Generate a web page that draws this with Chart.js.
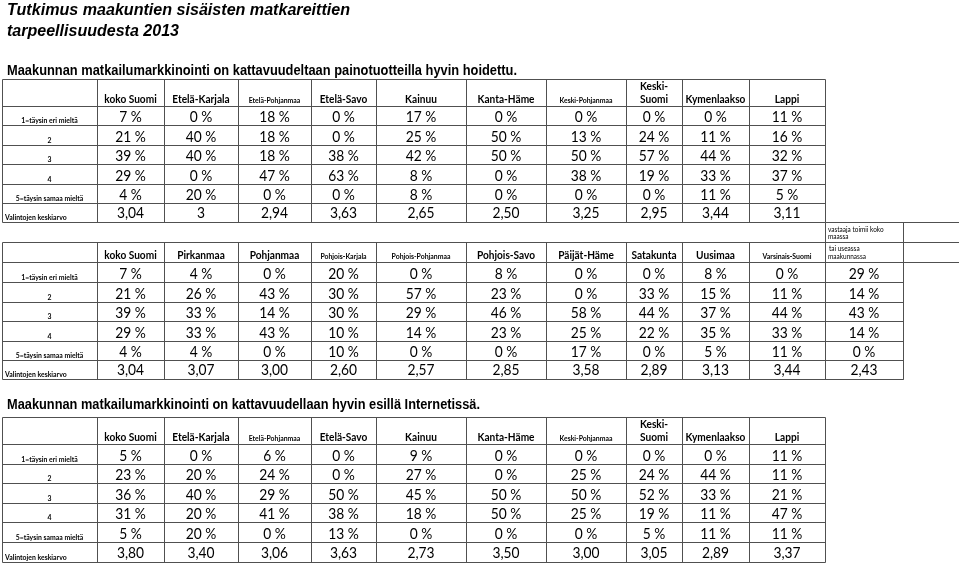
<!DOCTYPE html>
<html><head><meta charset="utf-8">
<script src="https://cdn.jsdelivr.net/npm/chart.js@4"></script>
<style>html,body{margin:0;padding:0;background:#fff;overflow:hidden}</style>
</head><body>
<canvas id="c" width="959" height="564"></canvas>
<script>
// ---------------- DATA ----------------
const mainTitle = ["Tutkimus maakuntien sisäisten matkareittien", "tarpeellisuudesta 2013"];
const question1 = "Maakunnan matkailumarkkinointi on kattavuudeltaan painotuotteilla hyvin hoidettu.";
const question2 = "Maakunnan matkailumarkkinointi on kattavuudellaan hyvin esillä Internetissä.";
const rowLabels = ["1=täysin eri mieltä", "2", "3", "4", "5=täysin samaa mieltä", "Valintojen keskiarvo"];

const regionsA = ["koko Suomi", "Etelä-Karjala", "Etelä-Pohjanmaa", "Etelä-Savo", "Kainuu", "Kanta-Häme", "Keski-Pohjanmaa", "Keski-Suomi", "Kymenlaakso", "Lappi"];
const regionsB = ["koko Suomi", "Pirkanmaa", "Pohjanmaa", "Pohjois-Karjala", "Pohjois-Pohjanmaa", "Pohjois-Savo", "Päijät-Häme", "Satakunta", "Uusimaa", "Varsinais-Suomi", "tai useassa maakunnassa"];
const extraColumnNote = "vastaaja toimii koko maassa";

// Table 1 (painotuotteet), regionsA
const t1_r1 = [7, 0, 18, 0, 17, 0, 0, 0, 0, 11];
const t1_r2 = [21, 40, 18, 0, 25, 50, 13, 24, 11, 16];
const t1_r3 = [39, 40, 18, 38, 42, 50, 50, 57, 44, 32];
const t1_r4 = [29, 0, 47, 63, 8, 0, 38, 19, 33, 37];
const t1_r5 = [4, 20, 0, 0, 8, 0, 0, 0, 11, 5];
const t1_avg = ["3,04", "3", "2,94", "3,63", "2,65", "2,50", "3,25", "2,95", "3,44", "3,11"];

// Table 2 (painotuotteet), regionsB
const t2_r1 = [7, 4, 0, 20, 0, 8, 0, 0, 8, 0, 29];
const t2_r2 = [21, 26, 43, 30, 57, 23, 0, 33, 15, 11, 14];
const t2_r3 = [39, 33, 14, 30, 29, 46, 58, 44, 37, 44, 43];
const t2_r4 = [29, 33, 43, 10, 14, 23, 25, 22, 35, 33, 14];
const t2_r5 = [4, 4, 0, 10, 0, 0, 17, 0, 5, 11, 0];
const t2_avg = ["3,04", "3,07", "3,00", "2,60", "2,57", "2,85", "3,58", "2,89", "3,13", "3,44", "2,43"];

// Table 3 (Internet), regionsA
const t3_r1 = [5, 0, 6, 0, 9, 0, 0, 0, 0, 11];
const t3_r2 = [23, 20, 24, 0, 27, 0, 25, 24, 44, 11];
const t3_r3 = [36, 40, 29, 50, 45, 50, 50, 52, 33, 21];
const t3_r4 = [31, 20, 41, 38, 18, 50, 25, 19, 11, 47];
const t3_r5 = [5, 20, 0, 13, 0, 0, 0, 5, 11, 11];
const t3_avg = ["3,80", "3,40", "3,06", "3,63", "2,73", "3,50", "3,00", "3,05", "2,89", "3,37"];

// ---------------- LAYOUT / STYLE ----------------
const colEdges = [2, 97, 164, 238, 311, 376, 466, 546, 626, 682, 749, 825, 903];
const tableRows = [
  [79, 106, 125, 145, 164, 184, 203, 222],
  [242, 262, 282, 302, 321, 341, 360, 379],
  [417, 444, 464, 483, 503, 522, 542, 562]
];
const noteBox = {rows: [222, 242, 262], cols: [825, 903, 960]};
const smallHeaders = ["Etelä-Pohjanmaa", "Keski-Pohjanmaa", "Pohjois-Karjala", "Pohjois-Pohjanmaa", "Varsinais-Suomi"];
const FAM = "Lato, 'Open Sans', sans-serif";
const FAM_T = "'Liberation Sans', Arial, sans-serif";
const ST = {
  title:  {size: 16, weight: 700, style: 'italic', fam: FAM_T},
  quest:  {size: 14, weight: 700, fam: FAM_T},
  value:  {size: 15, weight: 400, sx: 0.92},
  head:   {size: 11.5, weight: 700, sx: 0.88},
  headS:  {size: 8, weight: 700, sx: 0.86},
  rowLab: {size: 8, weight: 700, sx: 0.86},
  note:   {size: 7.2, weight: 400, sx: 0.9}
};
const lineColor = '#505050';

// ---------------- BUILD DATASETS ----------------
const tables = [
  {regions: regionsA, rows: [t1_r1, t1_r2, t1_r3, t1_r4, t1_r5], avg: t1_avg, edges: tableRows[0]},
  {regions: regionsB, rows: [t2_r1, t2_r2, t2_r3, t2_r4, t2_r5], avg: t2_avg, edges: tableRows[1]},
  {regions: regionsA, rows: [t3_r1, t3_r2, t3_r3, t3_r4, t3_r5], avg: t3_avg, edges: tableRows[2]}
];
const colCenter = i => (colEdges[i] + colEdges[i + 1]) / 2;

const datasets = [];
function textSet(points, style, align) {
  datasets.push({data: points, textStyle: style, textAlign: align || 'center', pointRadius: 0, showLine: false});
}
// titles
textSet([{x: 7, y: 15, t: mainTitle[0], fit: 343}, {x: 7, y: 36, t: mainTitle[1], fit: 172}], ST.title, 'left');
textSet([{x: 7, y: 75, t: question1, fit: 510}, {x: 7, y: 409, t: question2, fit: 473}], ST.quest, 'left');

tables.forEach(tb => {
  const e = tb.edges;
  const heads = [], headsS = [], vals = [], labsC = [], labsL = [];
  tb.regions.forEach((name, c) => {
    const x = colCenter(c + 1);
    if (name === "tai useassa maakunnassa") {
      labsL.push({x: colEdges[c + 1] + 4, y: e[1] - 11.5, t: "tai useassa", st: ST.note});
      labsL.push({x: colEdges[c + 1] + 3, y: e[1] - 3.5, t: "maakunnassa", st: ST.note});
      const n = extraColumnNote.split(" ");
      labsL.push({x: colEdges[c + 1] + 3, y: noteBox.rows[0] + 9.5, t: n.slice(0, 3).join(" "), st: ST.note});
      labsL.push({x: colEdges[c + 1] + 3, y: noteBox.rows[0] + 17, t: n.slice(3).join(" "), st: ST.note});
    } else if (name === "Keski-Suomi") {
      heads.push({x, y: e[1] - 16, t: "Keski-"});
      heads.push({x, y: e[1] - 3, t: "Suomi"});
    } else if (smallHeaders.includes(name)) {
      headsS.push({x, y: e[1] - 3, t: name});
    } else {
      heads.push({x, y: e[1] - 3, t: name});
    }
    tb.rows.forEach((arr, r) => vals.push({x, y: e[r + 2] - 3.5, t: arr[c] + " %"}));
    vals.push({x, y: e[7] - 3.8, t: tb.avg[c]});
  });
  rowLabels.forEach((lab, r) => {
    if (r === 5) labsL.push({x: colEdges[0] + 3, y: e[r + 2] - 2, t: lab, st: ST.rowLab});
    else labsC.push({x: colCenter(0), y: e[r + 2] - 2.5, t: lab});
  });
  textSet(heads, ST.head);
  textSet(headsS, ST.headS);
  textSet(vals, ST.value);
  textSet(labsC, ST.rowLab);
  textSet(labsL, ST.note, 'left');
});

// ---------------- PLUGINS ----------------
function drawText(ctx, str, x, y, st, align, fit) {
  ctx.save();
  ctx.font = `${st.style || 'normal'} ${st.weight || 400} ${st.size}px ${st.fam || FAM}`;
  ctx.fillStyle = '#000';
  ctx.textBaseline = 'alphabetic';
  ctx.textAlign = 'left';
  const mw = ctx.measureText(str).width;
  let sx = st.sx || 1;
  if (fit) sx = fit / mw;
  const w = mw * sx;
  const x0 = align === 'left' ? x : x - w / 2;
  ctx.translate(x0, y);
  ctx.scale(sx, 1);
  ctx.fillText(str, 0, 0);
  ctx.restore();
}

const gridPlugin = {
  id: 'tableGrid',
  beforeDatasetsDraw(chart) {
    const ctx = chart.ctx, X = v => Math.round(chart.scales.x.getPixelForValue(v)) + 0.5,
          Y = v => Math.round(chart.scales.y.getPixelForValue(v)) + 0.5;
    ctx.save();
    ctx.strokeStyle = lineColor;
    ctx.lineWidth = 1;
    const seg = (x1, y1, x2, y2) => { ctx.beginPath(); ctx.moveTo(X(x1), Y(y1)); ctx.lineTo(X(x2), Y(y2)); ctx.stroke(); };
    tables.forEach(tb => {
      const e = tb.edges, nCols = tb.regions.length + 1;
      const right = colEdges[nCols];
      e.forEach(y => seg(colEdges[0], y, right, y));
      for (let i = 0; i <= nCols; i++) seg(colEdges[i], e[0], colEdges[i], e[e.length - 1]);
    });
    // note box above extra column
    noteBox.rows.forEach(y => seg(noteBox.cols[0], y, noteBox.cols[2], y));
    noteBox.cols.forEach(x => seg(x, noteBox.rows[0], x, noteBox.rows[2]));
    seg(noteBox.cols[1], noteBox.rows[0], noteBox.cols[1], tableRows[1][7]);
    ctx.restore();
  },
  afterDatasetsDraw(chart) {
    const ctx = chart.ctx;
    chart.data.datasets.forEach((ds, i) => {
      const meta = chart.getDatasetMeta(i);
      meta.data.forEach((el, j) => {
        const raw = ds.data[j];
        drawText(ctx, raw.t, el.x, el.y, raw.st || ds.textStyle, ds.textAlign, raw.fit);
      });
    });
  }
};

new Chart(document.getElementById('c'), {
  type: 'scatter',
  data: {datasets},
  options: {
    responsive: false,
    animation: false,
    devicePixelRatio: 1,
    layout: {padding: 0},
    events: [],
    plugins: {legend: {display: false}, tooltip: {enabled: false}, title: {display: false}},
    scales: {
      x: {type: 'linear', display: false, min: 0, max: 959},
      y: {type: 'linear', display: false, min: 0, max: 564, reverse: true}
    }
  },
  plugins: [gridPlugin]
});
</script>
</body></html>
